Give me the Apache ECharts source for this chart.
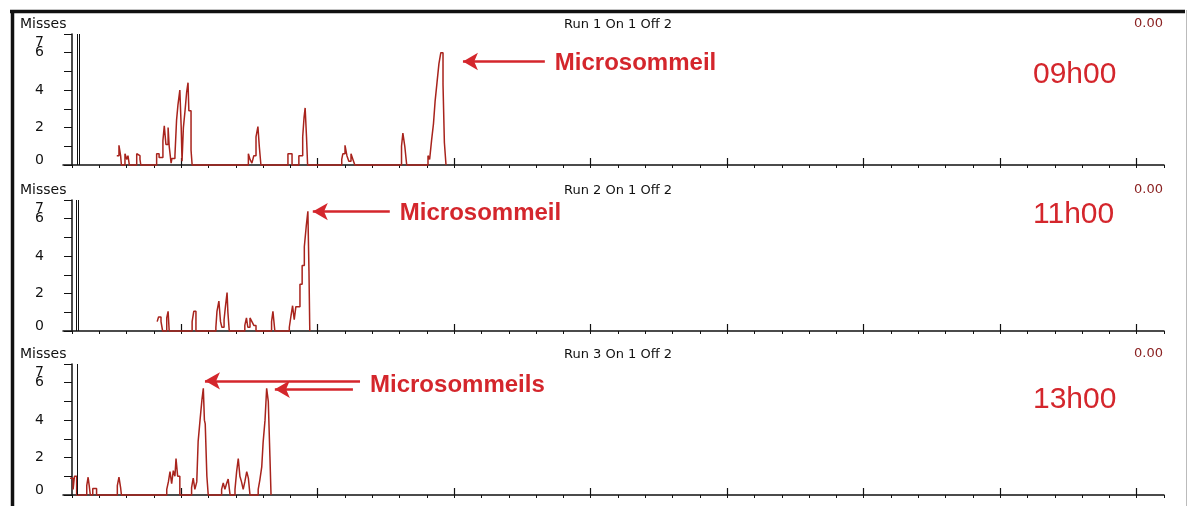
<!DOCTYPE html>
<html>
<head>
<meta charset="utf-8">
<script src="https://cdn.jsdelivr.net/npm/echarts@6/dist/echarts.min.js"></script>
<style>
html, body { margin: 0; padding: 0; background: #fff; }
#chart { width: 1187px; height: 506px; }
</style>
</head>
<body>
<div id="chart"></div>
<script>
// labels
var runTitles = ['Run 1 On 1 Off 2', 'Run 2 On 1 Off 2', 'Run 3 On 1 Off 2'];
var runTimes = ['09h00', '11h00', '13h00'];
var runValues = ['0.00', '0.00', '0.00'];
var yTickLabels = [0, 2, 4, 6];
var yTopLabel = [7];

// x ticks (axis units, one minor tick = 10)
var majorTicks = [40, 90, 140, 190, 240, 290, 340, 390];
var minorTicks = [];
for (var t = 0; t <= 400; t += 10) minorTicks.push(t);

// misses per run : [time, misses], drawn as steps
var run1 = [
    [16.4, 0.5], [17.2, 1.05], [17.8, 0.5], [18.1, 0],
    [19.4, 0.6], [20.1, 0.3], [20.5, 0.5], [21.0, 0],
    [23.7, 0.6], [24.2, 0.5], [24.9, 0.3], [25.2, 0],
    [31.0, 0.6], [31.9, 0.4], [33.3, 1.3], [33.8, 2.1], [34.4, 1.1], [35.2, 2.0], [35.6, 1.0], [36.3, 0.1],
    [36.6, 0.35], [37.7, 0.5], [38.3, 2.4], [38.8, 3.2], [39.5, 4.0], [40.0, 2.0], [40.3, 0.2], [40.8, 2.0],
    [41.4, 2.9], [42.0, 3.9], [42.5, 4.4], [42.8, 2.9], [43.6, 0.8], [44.0, 0],
    [64.6, 0.6], [65.2, 0.3], [65.9, 0.1], [66.6, 0.5], [67.4, 1.5], [68.1, 2.05], [68.6, 1.0], [69.2, 0],
    [79.1, 0.6], [80.6, 0],
    [83.1, 0.5], [84.5, 1.5], [85.0, 2.55], [85.4, 3.05], [85.9, 1.5], [86.3, 0],
    [98.8, 0.3], [99.2, 0.6], [100.0, 1.05], [100.7, 0.5], [101.4, 0.2], [102.2, 0.6], [102.9, 0.3], [103.6, 0],
    [120.7, 1.0], [121.2, 1.7], [121.9, 1.0], [122.6, 0],
    [130.4, 0.5], [131.0, 0.3], [131.7, 1.3], [132.4, 2.2], [133.0, 3.4], [133.7, 4.4], [134.4, 5.4],
    [135.1, 6.0], [135.9, 4.3], [136.4, 1.2], [137.0, 0]
];
var run2 = [
    [31.2, 0.5], [31.7, 0.75], [32.6, 0.5], [33.2, 0],
    [34.7, 0.7], [35.2, 1.05], [35.6, 0],
    [44.0, 0.5], [44.6, 1.05], [45.4, 0],
    [52.7, 0.2], [53.1, 1.05], [53.8, 1.6], [54.4, 0.5], [54.9, 0.2], [55.7, 0.6], [56.2, 1.3], [56.8, 2.05],
    [57.1, 1.0], [57.6, 0],
    [63.3, 0.3], [63.9, 0.7], [64.4, 0.2], [65.2, 0.7], [65.9, 0.5], [66.6, 0.3], [67.4, 0],
    [73.1, 0.5], [73.6, 1.05], [74.3, 0],
    [79.6, 0.2], [80.2, 0.8], [80.8, 1.35], [81.4, 0.6], [82.0, 1.3], [83.5, 2.5], [84.3, 3.5], [85.1, 4.5],
    [85.8, 5.6], [86.4, 6.4], [86.8, 3.2], [87.1, 0]
];
var run3 = [
    [-0.7, 0.9], [0.4, 0.3], [0.9, 1.0], [1.7, 0],
    [5.4, 0.5], [5.9, 0.95], [6.3, 0.5], [6.7, 0],
    [7.6, 0.35], [9.0, 0],
    [16.6, 0.5], [17.2, 0.95], [17.8, 0.4], [18.1, 0],
    [34.7, 0.3], [35.3, 0.7], [35.9, 1.25], [36.5, 0.6], [37.1, 1.3], [37.7, 1.0], [38.1, 1.95], [38.7, 1.0], [39.5, 0],
    [43.8, 0.4], [44.4, 0.9], [45.0, 0.3], [45.7, 0.7], [46.2, 2.85], [46.9, 4.0], [47.6, 5.1], [48.1, 5.7],
    [48.5, 4.0], [48.8, 3.8], [49.4, 1.0], [49.9, 0],
    [54.8, 0.3], [55.4, 0.65], [56.0, 0.3], [56.6, 0.6], [57.2, 0.85], [57.9, 0],
    [59.7, 0.3], [60.3, 1.25], [60.9, 1.95], [61.5, 1.0], [62.1, 0.7], [62.7, 0.3], [63.3, 0.7], [64.0, 1.25],
    [64.6, 0.9], [65.2, 0],
    [68.2, 0.3], [68.8, 0.8], [69.5, 1.5], [70.0, 2.8], [70.7, 4.0], [71.3, 5.7], [71.9, 5.0], [72.5, 2.05], [72.9, 0]
];
var runs = [run1, run2, run3];

// cursor lines at the start of each run
var cursors = [[1.94, 2.67], [1.6, 2.3], [1.94]];

// annotations : [tail time, head time, level, text]
var arrows = [
    [[173.2, 143.2, 5.53, 'Microsommeil']],
    [[116.4, 88.2, 6.38, 'Microsommeil']],
    [[105.5, 48.7, 6.1, 'Microsommeils'], [102.9, 74.3, 5.65, '']]
];

var panelTops = [34, 200, 364];
var red = '#d4262c';
var smallFont = '"DejaVu Sans", sans-serif';
var bigFont = '"Liberation Sans", Arial, sans-serif';

var myChart = echarts.init(document.getElementById('chart'));

var grids = [], xAxes = [], yAxes = [], series = [], graphics = [];

for (var i = 0; i < 3; i++) {
    grids.push({ left: 63, right: 23, top: panelTops[i], height: 131, containLabel: false, outerBoundsMode: 'none' });

    xAxes.push({
        type: 'value', gridIndex: i, min: -3.3, max: 400,
        axisLine: { show: true, onZero: false, lineStyle: { color: '#111', width: 1.5 } },
        axisTick: { show: true, length: 3, customValues: minorTicks, lineStyle: { color: '#111' } },
        axisLabel: { show: false },
        splitLine: { show: false }
    });
    xAxes.push({
        type: 'value', gridIndex: i, min: -3.3, max: 400,
        axisLine: { show: false },
        axisTick: { show: true, length: 7, customValues: majorTicks, lineStyle: { color: '#111', width: 1.2 } },
        axisLabel: { show: false },
        splitLine: { show: false }
    });

    // main y axis : line, ticks, labels 0 2 4 6
    yAxes.push({
        type: 'value', gridIndex: i, position: 'left', min: 0, max: 7, interval: 1,
        axisLine: { show: true, lineStyle: { color: '#111', width: 1.5 } },
        axisTick: { show: true, length: 8, lineStyle: { color: '#111' } },
        splitLine: { show: false },
        axisLabel: {
            margin: 19, color: '#111', fontSize: 14, fontFamily: smallFont,
            customValues: yTickLabels, hideOverlap: false,
            formatter: function (v) {
                return v === 0 ? '{b|0}' : String(v);
            },
            rich: {
                b: { padding: [0, 0, 10, 0], fontSize: 14, fontFamily: smallFont, color: '#111' }
            }
        }
    });
    // overlay y axis : only the top "7", pushed down onto the "6"
    yAxes.push({
        type: 'value', gridIndex: i, position: 'left', min: 0, max: 7,
        axisLine: { show: false }, axisTick: { show: false }, splitLine: { show: false },
        axisLabel: {
            margin: 19, customValues: yTopLabel, showMaxLabel: true,
            formatter: '{t|{value}}',
            rich: { t: { padding: [16, 0, 0, 0], fontSize: 14, fontFamily: smallFont, color: '#111' } }
        }
    });

    var mlData = [];
    cursors[i].forEach(function (c) {
        mlData.push({ xAxis: c, lineStyle: { color: '#111', width: 1 }, label: { show: false } });
    });
    arrows[i].forEach(function (a) {
        mlData.push([
            { coord: [a[0], a[2]], symbol: 'none',
              label: { show: a[3] !== '', position: 'start', distance: 10,
                       formatter: '{m|' + a[3] + '}',
                       rich: { m: { color: red, fontSize: 24, fontWeight: 'bold', fontFamily: bigFont,
                                    padding: i === 2 ? [10, 0, 0, 0] : [4, 0, 0, 0] } } } },
            { coord: [a[1], a[2]], symbol: 'arrow' }
        ]);
    });

    series.push({
        type: 'line', xAxisIndex: 2 * i, yAxisIndex: 2 * i,
        step: 'end', showSymbol: false, clip: false,
        lineStyle: { color: '#a8231c', width: 1.5 },
        data: runs[i],
        markLine: {
            silent: true, animation: false,
            symbol: ['none', 'none'], symbolSize: [13, 15],
            lineStyle: { color: red, width: 2.5, type: 'solid' },
            data: mlData
        }
    });

    var ty = panelTops[i];
    graphics.push({ type: 'text', x: 20, y: ty - 10,
        style: { text: 'Misses', font: '14px ' + smallFont, fill: '#111', verticalAlign: 'middle' } });
    graphics.push({ type: 'text', x: 618, y: ty - 9,
        style: { text: runTitles[i], font: '13px ' + smallFont, fill: '#111', align: 'center', verticalAlign: 'middle' } });
    graphics.push({ type: 'text', x: 1163, y: ty - 10,
        style: { text: runValues[i], font: '13px ' + smallFont, fill: '#8b2222', align: 'right', verticalAlign: 'middle' } });
}

graphics.push({ type: 'text', x: 1033, y: 75,
    style: { text: runTimes[0], font: '30px ' + bigFont, fill: red, verticalAlign: 'middle' } });
graphics.push({ type: 'text', x: 1033, y: 215,
    style: { text: runTimes[1], font: '30px ' + bigFont, fill: red, verticalAlign: 'middle' } });
graphics.push({ type: 'text', x: 1033, y: 400,
    style: { text: runTimes[2], font: '30px ' + bigFont, fill: red, verticalAlign: 'middle' } });

// outer frame
graphics.push({ type: 'line', shape: { x1: 10, y1: 11.5, x2: 1185, y2: 11.5 }, style: { stroke: '#111', lineWidth: 3.5 } });
graphics.push({ type: 'line', shape: { x1: 12.5, y1: 10, x2: 12.5, y2: 506 }, style: { stroke: '#111', lineWidth: 3.5 } });
graphics.push({ type: 'line', shape: { x1: 1186.5, y1: 10, x2: 1186.5, y2: 506 }, style: { stroke: '#bbb', lineWidth: 1 } });

var option = {
    animation: false,
    backgroundColor: '#fff',
    grid: grids,
    xAxis: xAxes,
    yAxis: yAxes,
    series: series,
    graphic: graphics
};

myChart.setOption(option, true);
</script>
</body>
</html>
